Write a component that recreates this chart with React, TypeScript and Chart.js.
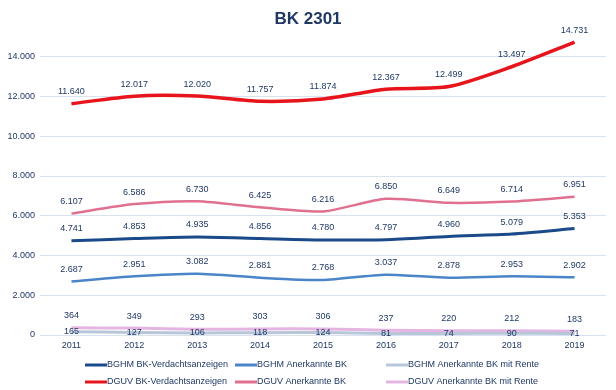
import React, { useEffect, useRef } from "react";
import { Chart, registerables } from "chart.js";

Chart.register(...registerables);

const years = ["2011", "2012", "2013", "2014", "2015", "2016", "2017", "2018", "2019"];
const bghmVerdacht = [4741, 4853, 4935, 4856, 4780, 4797, 4960, 5079, 5353];
const bghmAnerkannt = [2687, 2951, 3082, 2881, 2768, 3037, 2878, 2953, 2902];
const bghmRente = [165, 127, 106, 118, 124, 81, 74, 90, 71];
const dguvVerdacht = [11640, 12017, 12020, 11757, 11874, 12367, 12499, 13497, 14731];
const dguvAnerkannt = [6107, 6586, 6730, 6425, 6216, 6850, 6649, 6714, 6951];
const dguvRente = [364, 349, 293, 303, 306, 237, 220, 212, 183];

const seriesNames = [
  "BGHM BK-Verdachtsanzeigen",
  "BGHM Anerkannte BK",
  "BGHM Anerkannte BK mit Rente",
  "DGUV BK-Verdachtsanzeigen",
  "DGUV Anerkannte BK",
  "DGUV Anerkannte BK mit Rente",
];
const seriesColors = ["#1b4a8a", "#4a85c9", "#b8c6da", "#e8141c", "#e0708f", "#e5b5e1"];
const seriesWidths = [3, 2.5, 3, 3.5, 2.5, 3];
const labelOffsets = [12, 12, 0, 12, 12, 12];

const FONT = '"Liberation Sans", Arial, sans-serif';
const TEXT = "#1f3864";

const fmt = (n: number) => String(n).replace(/\B(?=(\d{3})+(?!\d))/g, ".");

export default function App() {
  const ref = useRef<HTMLCanvasElement | null>(null);

  useEffect(() => {
    if (!ref.current) return;
    const values = [bghmVerdacht, bghmAnerkannt, bghmRente, dguvVerdacht, dguvAnerkannt, dguvRente];

    const extras = {
      id: "extras",
      afterDatasetsDraw(chart: any) {
        const ctx = chart.ctx;
        ctx.save();
        ctx.font = `9px ${FONT}`;
        ctx.fillStyle = TEXT;
        ctx.textAlign = "center";
        ctx.textBaseline = "middle";
        chart.data.datasets.forEach((ds: any, i: number) => {
          const meta = chart.getDatasetMeta(i);
          meta.data.forEach((pt: any, j: number) => {
            ctx.fillText(fmt(ds.data[j]), pt.x, pt.y - labelOffsets[i]);
          });
        });
        ctx.restore();
      },
      afterDraw(chart: any) {
        const ctx = chart.ctx;
        ctx.save();
        // title
        ctx.font = `bold 17px ${FONT}`;
        ctx.fillStyle = TEXT;
        ctx.textAlign = "center";
        ctx.textBaseline = "middle";
        ctx.fillText("BK 2301", 308, 19);
        // legend
        const cols = [85, 235, 386];
        const rows = [365, 382];
        ctx.font = `9px ${FONT}`;
        ctx.textAlign = "left";
        for (let i = 0; i < 6; i++) {
          const x = cols[i % 3];
          const y = rows[Math.floor(i / 3)];
          ctx.strokeStyle = seriesColors[i];
          ctx.lineWidth = 3;
          ctx.beginPath();
          ctx.moveTo(x, y);
          ctx.lineTo(x + 22, y);
          ctx.stroke();
          ctx.fillStyle = TEXT;
          ctx.fillText(seriesNames[i], x + 22, y);
        }
        ctx.restore();
      },
    };

    const chart = new Chart(ref.current, {
      type: "line",
      data: {
        labels: years,
        datasets: values.map((v, i) => ({
          label: seriesNames[i],
          data: v,
          borderColor: seriesColors[i],
          backgroundColor: seriesColors[i],
          borderWidth: seriesWidths[i],
          pointRadius: 0,
          tension: 0.25,
          fill: false,
        })),
      },
      options: {
        responsive: false,
        animation: false,
        layout: { padding: { top: 17, right: 10, bottom: 0, left: 0 } },
        plugins: {
          legend: { display: false },
          title: { display: false },
          tooltip: { enabled: false },
        },
        scales: {
          x: {
            offset: true,
            grid: { display: false, drawTicks: false },
            border: { display: false },
            ticks: { font: { family: FONT, size: 9 }, color: TEXT, padding: 5, maxRotation: 0 },
            afterFit(scale: any) {
              scale.height = 55;
            },
          },
          y: {
            min: 0,
            max: 16000,
            border: { display: false },
            grid: {
              drawTicks: false,
              color: (c: any) => (c.tick && c.tick.value === 16000 ? "rgba(0,0,0,0)" : "#d9e2ef"),
              lineWidth: 1,
            },
            ticks: {
              stepSize: 2000,
              padding: 5,
              font: { family: FONT, size: 9 },
              color: TEXT,
              callback: (v: any) => (v === 16000 ? "" : fmt(Number(v))),
            },
            afterFit(scale: any) {
              scale.width = 40;
            },
          },
        },
      },
      plugins: [extras],
    });
    return () => chart.destroy();
  }, []);

  return (
    <div style={{ position: "fixed", left: 0, top: 0, width: 616, height: 390, background: "#fff" }}>
      <canvas ref={ref} width={616} height={390} style={{ width: 616, height: 390, display: "block" }} />
    </div>
  );
}
